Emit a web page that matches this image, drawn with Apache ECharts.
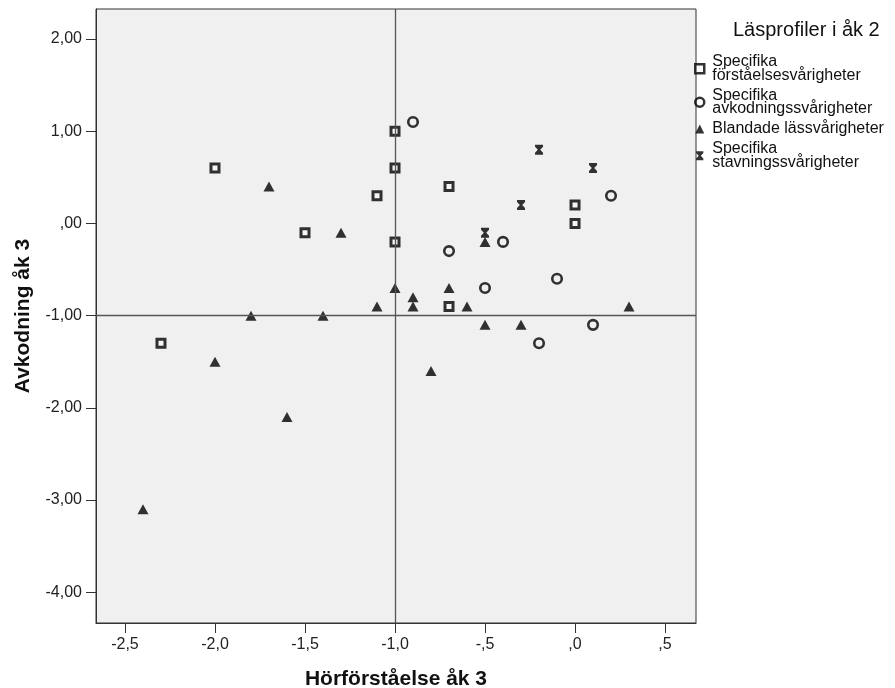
<!DOCTYPE html>
<html>
<head>
<meta charset="utf-8">
<script src="https://cdn.jsdelivr.net/npm/echarts@6/dist/echarts.min.js"></script>
<style>
  html, body { margin: 0; padding: 0; background: #fff; }
  #chart { width: 895px; height: 688px; }
</style>
</head>
<body>
<div id="chart"></div>
<script>
// Läsprofiler i åk 2 - points as [Hörförståelse, Avkodning]
const forstaelsePoints = [
    [-2.0, 0.6], [-1.0, 1.0], [-1.0, 0.6], [-1.1, 0.3], [-1.5, -0.1], [-1.0, -0.2],
    [-0.7, 0.4], [0.0, 0.2], [0.0, 0.0], [-0.7, -0.9], [-2.3, -1.3]
];
const avkodningPoints = [
    [-0.9, 1.1], [0.2, 0.3], [-0.4, -0.2], [-0.7, -0.3], [-0.1, -0.6],
    [-0.5, -0.7], [0.1, -1.1], [-0.2, -1.3]
];
const blandadePoints = [
    [-1.7, 0.4], [-1.3, -0.1], [-1.0, -0.7], [-1.1, -0.9], [-1.8, -1.0], [-1.4, -1.0],
    [-0.9, -0.8], [-0.9, -0.9], [-0.7, -0.7], [-0.6, -0.9], [-0.5, -0.2], [-0.5, -1.1],
    [-0.3, -1.1], [0.3, -0.9], [-2.0, -1.5], [-1.6, -2.1], [-2.4, -3.1], [-0.8, -1.6]
];
const stavningPoints = [
    [-0.2, 0.8], [0.1, 0.6], [-0.3, 0.2], [-0.5, -0.1]
];

const seriesNames = [
    'Specifika förståelsesvårigheter',
    'Specifika avkodningssvårigheter',
    'Blandade lässvårigheter',
    'Specifika stavningssvårigheter'
];

const xTickValues = [-2.5, -2.0, -1.5, -1.0, -0.5, 0.0, 0.5];
const xTickLabels = ['-2,5', '-2,0', '-1,5', '-1,0', '-,5', ',0', ',5'];
const yTickValues = [2, 1, 0, -1, -2, -3, -4];
const yTickLabels = ['2,00', '1,00', ',00', '-1,00', '-2,00', '-3,00', '-4,00'];

// reference lines at x = -1 and y = -1
const refX = -1;
const refY = -1;

const hourglass = 'path://M0,0 L8,0 L8,2 L5.2,5 L8,8 L8,10 L0,10 L0,8 L2.8,5 L0,2 Z';
const FONT = 'Liberation Sans, Arial, sans-serif';

function labelFor(values, labels) {
    return v => {
        const i = values.findIndex(t => Math.abs(t - v) < 1e-9);
        return i >= 0 ? labels[i] : '';
    };
}

const chart = echarts.init(document.getElementById('chart'));

const option = {
    animation: false,
    backgroundColor: '#ffffff',
    title: {
        text: 'Läsprofiler i åk 2',
        left: 733,
        top: 20,
        padding: 0,
        textStyle: { fontFamily: FONT, fontSize: 20, fontWeight: 'normal', color: '#111' }
    },
    legend: {
        orient: 'vertical',
        left: 694,
        top: 54,
        padding: 0,
        itemGap: 4,
        itemWidth: 9,
        itemHeight: 9,
        selectedMode: false,
        formatter: name => name.replace('Specifika ', 'Specifika\n'),
        textStyle: { fontFamily: FONT, fontSize: 16, lineHeight: 13.5, color: '#111', padding: [0, 0, 0, 3] },
        data: [
            { name: seriesNames[0], icon: 'rect', itemStyle: { borderWidth: 2.5 } },
            { name: seriesNames[1], icon: 'circle', itemStyle: { borderWidth: 2.5 } },
            { name: seriesNames[2], icon: 'triangle' },
            { name: seriesNames[3], icon: hourglass }
        ]
    },
    grid: {
        left: 96,
        top: 9,
        width: 600,
        height: 614,
        outerBoundsMode: 'none',
        show: true,
        backgroundColor: '#f0f0f0',
        borderColor: '#333',
        borderWidth: 1
    },
    xAxis: {
        type: 'value',
        min: -2.661,
        max: 0.672,
        name: 'Hörförståelse åk 3',
        nameLocation: 'middle',
        nameGap: 46,
        nameTextStyle: { fontFamily: FONT, fontSize: 21, fontWeight: 'bold', color: '#111' },
        splitLine: { show: false },
        axisLine: { show: true, onZero: false, lineStyle: { color: '#333' } },
        axisTick: { show: true, length: 10, customValues: xTickValues, lineStyle: { color: '#333' } },
        axisLabel: {
            customValues: xTickValues,
            margin: 14,
            fontFamily: FONT,
            fontSize: 16,
            color: '#222',
            formatter: labelFor(xTickValues, xTickLabels)
        }
    },
    yAxis: {
        type: 'value',
        min: -4.334,
        max: 2.326,
        name: 'Avkodning åk 3',
        nameLocation: 'middle',
        nameGap: 62,
        nameTextStyle: { fontFamily: FONT, fontSize: 21, fontWeight: 'bold', color: '#111' },
        splitLine: { show: false },
        axisLine: { show: true, onZero: false, lineStyle: { color: '#333' } },
        axisTick: { show: true, length: 10, customValues: yTickValues, lineStyle: { color: '#333' } },
        axisLabel: {
            customValues: yTickValues,
            margin: 14,
            fontFamily: FONT,
            fontSize: 16,
            color: '#222',
            formatter: labelFor(yTickValues, yTickLabels)
        }
    },
    tooltip: { show: false },
    series: [
        {
            name: seriesNames[0],
            type: 'scatter',
            symbol: 'rect',
            symbolSize: 8,
            itemStyle: { color: '#f8f8f8', borderColor: '#000', borderWidth: 3 },
            data: forstaelsePoints,
            markLine: {
                silent: true,
                symbol: 'none',
                label: { show: false },
                lineStyle: { color: '#555', type: 'solid', width: 1.3 },
                data: [{ xAxis: refX }, { yAxis: refY }]
            }
        },
        {
            name: seriesNames[1],
            type: 'scatter',
            symbol: 'circle',
            symbolSize: 9.5,
            itemStyle: { color: 'rgba(0,0,0,0)', borderColor: '#000', borderWidth: 2.6 },
            data: avkodningPoints
        },
        {
            name: seriesNames[2],
            type: 'scatter',
            symbol: 'triangle',
            symbolSize: [11, 10],
            itemStyle: { color: '#000' },
            data: blandadePoints
        },
        {
            name: seriesNames[3],
            type: 'scatter',
            symbol: hourglass,
            symbolSize: [8, 10],
            itemStyle: { color: '#000' },
            data: stavningPoints
        }
    ]
};

chart.setOption(option);
</script>
</body>
</html>
